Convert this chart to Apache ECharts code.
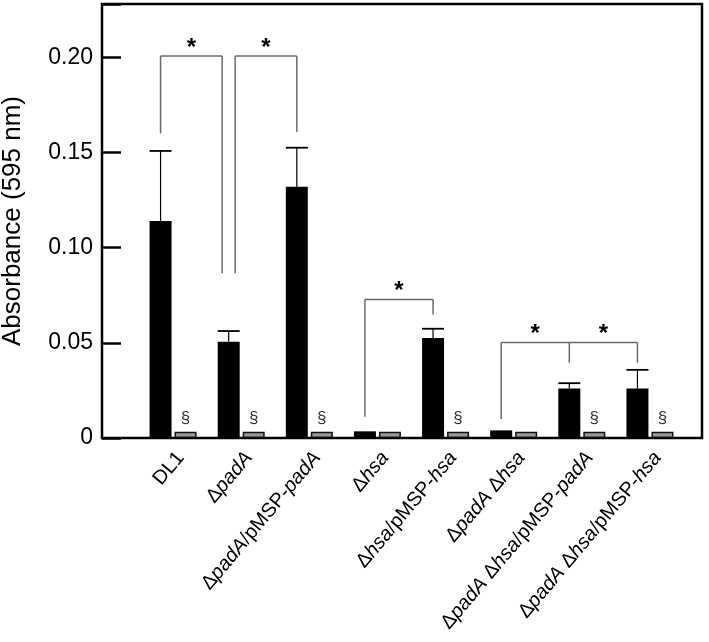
<!DOCTYPE html>
<html><head><meta charset="utf-8">
<script src="https://cdn.jsdelivr.net/npm/echarts@6/dist/echarts.min.js"></script>
<style>html,body{margin:0;padding:0;background:#fff}#c{width:709px;height:642px}</style>
</head><body><div id="c"></div>
<script>
// ---- data ----
const categories = ['DL1', 'ΔpadA', 'ΔpadA/pMSP-padA', 'Δhsa', 'Δhsa/pMSP-hsa', 'ΔpadA Δhsa', 'ΔpadA Δhsa/pMSP-padA', 'ΔpadA Δhsa/pMSP-hsa'];
const blackValues = [0.114, 0.0506, 0.132, 0.0035, 0.0525, 0.0040, 0.0260, 0.0260];
const blackErrTop = [0.1508, 0.0562, 0.1525, null, 0.0574, null, 0.0288, 0.0358];
const grayValues = [0.0033, 0.0033, 0.0033, 0.0033, 0.0033, 0.0033, 0.0033, 0.0033];
const sectionMark = [true, true, true, false, true, false, true, true];
const yMin = 0, yMax = 0.228, yStep = 0.05;
// significance brackets: legs = [category index, leg bottom value, side flag], top = bracket height
const bracketLegs = [
  [[0, 0.160, 0], [1, 0.0866, -1]],
  [[1, 0.0866, 1], [2, 0.1608, 0]],
  [[3, 0.0112, 0], [4, 0.0649, 0]],
  [[5, 0.0100, 0], [6, 0.0395, 0], [7, 0.0395, 0]]
];
const bracketTops = [0.2007, 0.2007, 0.0728, 0.0502];

// ---- style constants ----
const FONT = '"Liberation Sans", Arial, Helvetica, sans-serif';
const BAR_W = 22, BAR_GAP = 3;
const BAR_OFF = (BAR_W + BAR_GAP) / 2;
const SPLIT = 6.5;

const chart = echarts.init(document.getElementById('c'), null, {renderer: 'canvas'});

function fmtLabel(s) {
  return s.replace(/(padA|hsa)/g, '{i|$1}');
}

const option = {
  animation: false,
  backgroundColor: '#fff',
  grid: [
    {left: 102, right: 7, top: 4, bottom: 204, outerBoundsMode: 'none', containLabel: false,
      show: true, borderColor: '#000', borderWidth: 2.5, backgroundColor: 'transparent'},
    {left: 139, right: 25, top: 4, bottom: 204, outerBoundsMode: 'none', containLabel: false}
  ],
  xAxis: [
    {gridIndex: 0, type: 'value', min: 0, max: 1, show: false},
    {gridIndex: 1, type: 'category', data: categories,
      axisLine: {show: false}, axisTick: {show: false},
      axisLabel: {
        interval: 0, rotate: 50, margin: 10, verticalAlign: 'top', fontSize: 20, fontFamily: FONT, color: '#000',
        formatter: fmtLabel,
        rich: {i: {fontSize: 20, fontFamily: FONT, fontStyle: 'italic', color: '#000'}}
      }
    }
  ],
  yAxis: [
    {gridIndex: 0, type: 'value', min: yMin, max: yMax, interval: yStep,
      name: 'Absorbance (595 nm)', nameLocation: 'middle', nameGap: 76,
      nameTextStyle: {fontSize: 26, fontFamily: FONT, color: '#000'},
      axisLine: {show: false},
      axisTick: {show: true, inside: true, length: 19, lineStyle: {color: '#000', width: 2.5}},
      splitLine: {show: false},
      axisLabel: {fontSize: 23, fontFamily: FONT, color: '#000', margin: 9,
        formatter: v => {
          const k = Math.round(v / yStep);
          if (Math.abs(v - k * yStep) > 1e-6) return '';
          return k === 0 ? '0' : (k * yStep).toFixed(2);
        }
      }
    },
    {gridIndex: 1, type: 'value', min: yMin, max: yMax, show: false}
  ],
  series: [
    {type: 'bar', xAxisIndex: 1, yAxisIndex: 1, data: blackValues, barWidth: BAR_W,
      barGap: (BAR_GAP / BAR_W * 100) + '%',
      itemStyle: {color: '#000'}},
    {type: 'bar', xAxisIndex: 1, yAxisIndex: 1, data: grayValues, barWidth: BAR_W,
      itemStyle: {color: '#9a9a9a', borderColor: '#111', borderWidth: 1.5},
      label: {show: true, position: 'top', distance: 5, fontSize: 17, fontFamily: FONT, color: '#333',
        formatter: p => sectionMark[p.dataIndex] ? '§' : ''}},
    {type: 'custom', xAxisIndex: 1, yAxisIndex: 1, clip: false, z: 5,
      data: blackErrTop.map((e, i) => [i, blackValues[i], e]).filter(d => d[2] != null),
      renderItem: (params, api) => {
        const i = api.value(0);
        const x = api.coord([i, 0])[0] - BAR_OFF;
        const y1 = api.coord([i, api.value(1)])[1];
        const y2 = api.coord([i, api.value(2)])[1];
        return {type: 'group', children: [
          {type: 'line', shape: {x1: x, y1: y1, x2: x, y2: y2}, style: {stroke: '#000', lineWidth: 1.2}},
          {type: 'line', shape: {x1: x - BAR_W / 2, y1: y2, x2: x + BAR_W / 2, y2: y2}, style: {stroke: '#000', lineWidth: 1.8}}
        ]};
      }
    },
    {type: 'custom', xAxisIndex: 1, yAxisIndex: 1, clip: false, z: 5,
      data: bracketLegs.map((legs, k) => [legs[0][0], bracketTops[k]]),
      renderItem: (params, api) => {
        const legs = bracketLegs[params.dataIndex];
        const yTop = api.coord([0, bracketTops[params.dataIndex]])[1];
        const xs = legs.map(l => api.coord([l[0], 0])[0] - BAR_OFF + l[2] * SPLIT);
        const ch = [];
        const st = {stroke: '#6a6a6a', lineWidth: 1.5};
        ch.push({type: 'line', shape: {x1: xs[0], y1: yTop, x2: xs[xs.length - 1], y2: yTop}, style: st});
        legs.forEach((l, j) => {
          const yb = api.coord([l[0], l[1]])[1];
          ch.push({type: 'line', shape: {x1: xs[j], y1: yTop, x2: xs[j], y2: yb}, style: st});
        });
        for (let j = 0; j < xs.length - 1; j++) {
          ch.push({type: 'text', style: {text: '*', x: (xs[j] + xs[j + 1]) / 2, y: yTop + 4,
            align: 'center', verticalAlign: 'bottom', fontSize: 24, fontWeight: 'bold', fontFamily: FONT, fill: '#000'}});
        }
        return {type: 'group', children: ch};
      }
    }
  ]
};
chart.setOption(option);
</script>
</body></html>
